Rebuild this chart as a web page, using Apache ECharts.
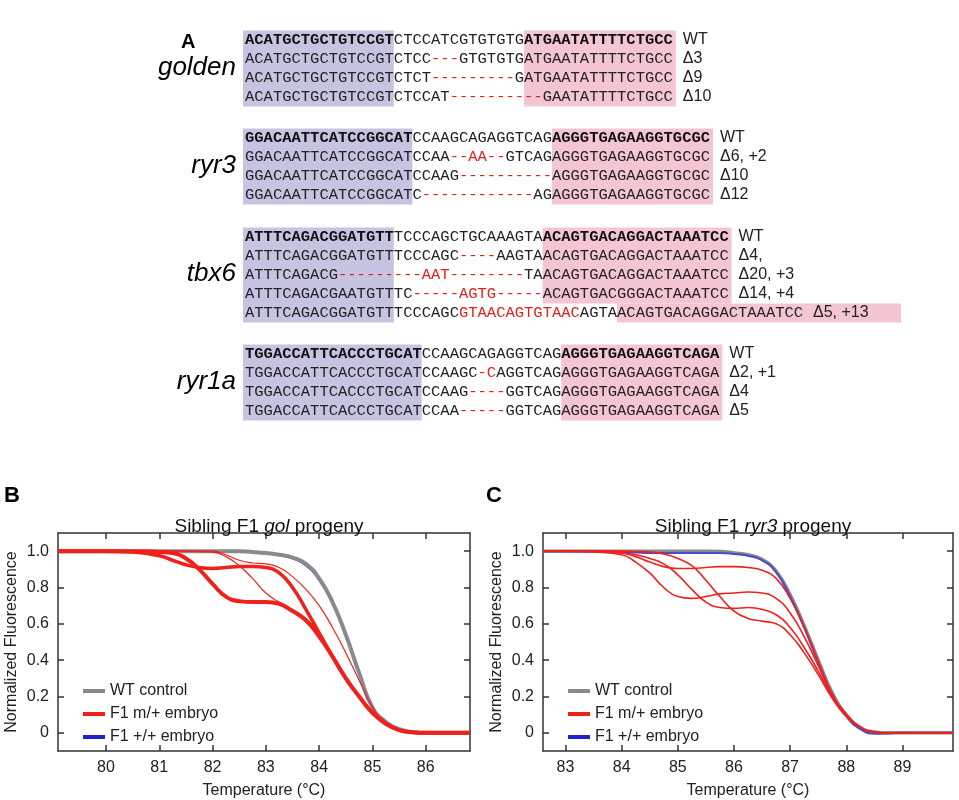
<!DOCTYPE html>
<html>
<head>
<meta charset="utf-8">
<script src="https://cdn.jsdelivr.net/npm/echarts@6/dist/echarts.min.js"></script>
<style>html,body{margin:0;padding:0;background:#fff}#main{width:959px;height:800px}</style>
</head>
<body>
<div id="main"></div>
<script>
// ---- panel B: gol melt curves ----
var tempsB = [79.1, 80, 80.5, 81, 81.25, 81.5, 81.75, 82, 82.25, 82.5, 82.75, 83, 83.25, 83.5, 83.75, 84, 84.25, 84.5, 84.75, 85, 85.25, 85.5, 85.75, 86, 86.83];
var golWT = [1, 1, 1, 1, 1, 1, 1, 1, 1, 1, 0.995, 0.99, 0.98, 0.965, 0.93, 0.85, 0.72, 0.54, 0.33, 0.14, 0.06, 0.02, 0.005, 0, 0];
var golWW = [1, 1, 1, 1, 1, 1, 1, 1, 1, 1, 0.995, 0.99, 0.978, 0.96, 0.92, 0.84, 0.71, 0.53, 0.33, 0.14, 0.06, 0.02, 0.005, 0, 0];
var golM1 = [1, 1, 0.995, 0.975, 0.95, 0.925, 0.91, 0.905, 0.91, 0.915, 0.915, 0.91, 0.88, 0.8, 0.68, 0.55, 0.42, 0.3, 0.2, 0.11, 0.05, 0.015, 0.003, 0, 0];
var golM2 = [1, 1, 1, 0.995, 0.99, 0.96, 0.9, 0.82, 0.75, 0.725, 0.72, 0.72, 0.71, 0.67, 0.62, 0.53, 0.42, 0.3, 0.2, 0.11, 0.05, 0.015, 0.003, 0, 0];
var golM3 = [1, 1, 1, 1, 1, 1, 0.998, 0.995, 0.97, 0.92, 0.85, 0.77, 0.72, 0.68, 0.63, 0.55, 0.43, 0.31, 0.2, 0.11, 0.05, 0.015, 0.003, 0, 0];
var golM4 = [1, 1, 1, 1, 1, 1, 1, 1, 0.98, 0.95, 0.935, 0.93, 0.91, 0.86, 0.79, 0.7, 0.58, 0.44, 0.29, 0.14, 0.06, 0.02, 0.004, 0, 0];

// ---- panel C: ryr3 melt curves ----
var tempsC = [82.6, 83, 83.5, 84, 84.25, 84.5, 84.75, 85, 85.25, 85.5, 85.75, 86, 86.25, 86.5, 86.75, 87, 87.25, 87.5, 87.75, 88, 88.25, 88.5, 88.75, 89, 89.9];
var ryrWT = [1, 1, 1, 1, 1, 1, 1, 1, 1, 1, 0.998, 0.99, 0.98, 0.955, 0.89, 0.76, 0.59, 0.4, 0.22, 0.1, 0.03, 0.005, 0, 0, 0];
var ryrWW = [1, 1, 1, 0.995, 0.992, 0.99, 0.99, 0.99, 0.99, 0.99, 0.99, 0.985, 0.975, 0.95, 0.885, 0.75, 0.58, 0.39, 0.21, 0.09, 0.02, -0.005, -0.003, 0, 0];
var ryrM1 = [1, 1, 1, 0.99, 0.97, 0.94, 0.915, 0.905, 0.905, 0.91, 0.915, 0.915, 0.91, 0.895, 0.85, 0.74, 0.58, 0.39, 0.21, 0.1, 0.03, 0.005, 0, 0, 0];
var ryrM2 = [1, 1, 0.995, 0.98, 0.94, 0.88, 0.8, 0.75, 0.74, 0.75, 0.765, 0.77, 0.775, 0.77, 0.74, 0.66, 0.53, 0.37, 0.21, 0.1, 0.03, 0.005, 0, 0, 0];
var ryrM3 = [1, 1, 1, 0.99, 0.98, 0.96, 0.93, 0.87, 0.79, 0.72, 0.69, 0.685, 0.69, 0.68, 0.65, 0.58, 0.47, 0.34, 0.2, 0.1, 0.03, 0.005, 0, 0, 0];
var ryrM4 = [1, 1, 1, 1, 0.998, 0.995, 0.985, 0.96, 0.92, 0.84, 0.75, 0.67, 0.63, 0.615, 0.6, 0.54, 0.44, 0.32, 0.19, 0.09, 0.03, 0.005, 0, 0, 0];

var yTicks = [0, 0.2, 0.4, 0.6, 0.8, 1.0];
var xTicksB = [80, 81, 82, 83, 84, 85, 86];
var xTicksC = [83, 84, 85, 86, 87, 88, 89];
var legendNames = ['WT control', 'F1 m/+ embryo', 'F1 +/+ embryo'];

// ---- panel A: alignments, each row = list of [text, style] ----
var alignments = [
  {gene: 'golden', blue: 16, pink: [30, 46], rows: [
    [['ACATGCTGCTGTCCGT', 'b'], ['CTCCATCGTGTGTG', 'n'], ['ATGAATATTTTCTGCC', 'b']],
    [['ACATGCTGCTGTCCGTCTCC', 'n'], ['---', 'r'], ['GTGTGTGATGAATATTTTCTGCC', 'n']],
    [['ACATGCTGCTGTCCGTCTCT', 'n'], ['---------', 'r'], ['GATGAATATTTTCTGCC', 'n']],
    [['ACATGCTGCTGTCCGTCTCCAT', 'n'], ['----------', 'r'], ['GAATATTTTCTGCC', 'n']]
  ], labels: ['WT', 'Δ3', 'Δ9', 'Δ10']},
  {gene: 'ryr3', blue: 18, pink: [33, 50], rows: [
    [['GGACAATTCATCCGGCAT', 'b'], ['CCAAGCAGAGGTCAG', 'n'], ['AGGGTGAGAAGGTGCGC', 'b']],
    [['GGACAATTCATCCGGCATCCAA', 'n'], ['--AA--', 'r'], ['GTCAGAGGGTGAGAAGGTGCGC', 'n']],
    [['GGACAATTCATCCGGCATCCAAG', 'n'], ['----------', 'r'], ['AGGGTGAGAAGGTGCGC', 'n']],
    [['GGACAATTCATCCGGCATC', 'n'], ['------------', 'r'], ['AGAGGGTGAGAAGGTGCGC', 'n']]
  ], labels: ['WT', 'Δ6, +2', 'Δ10', 'Δ12']},
  {gene: 'tbx6', blue: 16, pink: [32, 52], rows: [
    [['ATTTCAGACGGATGTT', 'b'], ['TCCCAGCTGCAAAGTA', 'n'], ['ACAGTGACAGGACTAAATCC', 'b']],
    [['ATTTCAGACGGATGTTTCCCAGC', 'n'], ['----', 'r'], ['AAGTAACAGTGACAGGACTAAATCC', 'n']],
    [['ATTTCAGACG', 'n'], ['---------AAT--------', 'r'], ['TAACAGTGACAGGACTAAATCC', 'n']],
    [['ATTTCAGACGAATGTTTC', 'n'], ['-----AGTG-----', 'r'], ['ACAGTGACGGGACTAAATCC', 'n']],
    [['ATTTCAGACGGATGTTTCCCAGC', 'n'], ['GTAACAGTGTAAC', 'r'], ['AGTAACAGTGACAGGACTAAATCC', 'n']]
  ], labels: ['WT', 'Δ4,', 'Δ20, +3', 'Δ14, +4', 'Δ5, +13']},
  {gene: 'ryr1a', blue: 19, pink: [34, 51], rows: [
    [['TGGACCATTCACCCTGCAT', 'b'], ['CCAAGCAGAGGTCAG', 'n'], ['AGGGTGAGAAGGTCAGA', 'b']],
    [['TGGACCATTCACCCTGCATCCAAGC', 'n'], ['-C', 'r'], ['AGGTCAGAGGGTGAGAAGGTCAGA', 'n']],
    [['TGGACCATTCACCCTGCATCCAAG', 'n'], ['----', 'r'], ['GGTCAGAGGGTGAGAAGGTCAGA', 'n']],
    [['TGGACCATTCACCCTGCATCCAA', 'n'], ['-----', 'r'], ['GGTCAGAGGGTGAGAAGGTCAGA', 'n']]
  ], labels: ['WT', 'Δ2, +1', 'Δ4', 'Δ5']}
];
var blockTops = [40, 138, 237, 354];

var chart = echarts.init(document.getElementById('main'));
var SANS = 'Liberation Sans';
var MONO = 'Liberation Mono';
var CW = 9.3, RH = 19, X0 = 245, FS = 15.5;

function zip(xs, ys) {
  return xs.map(function (x, i) { return [x, ys[i]]; });
}

var graphics = [
  {type: 'text', left: 181, top: 32, style: {text: 'A', font: 'bold 20px ' + SANS, fill: '#000'}},
  {type: 'text', left: 4, top: 485, style: {text: 'B', font: 'bold 22px ' + SANS, fill: '#000'}},
  {type: 'text', left: 486, top: 485, style: {text: 'C', font: 'bold 22px ' + SANS, fill: '#000'}}
];
alignments.forEach(function (al, k) {
  var top = blockTops[k] - RH / 2;
  var n = al.rows.length;
  graphics.push({type: 'rect', shape: {x: X0 - 2, y: top, width: al.blue * CW + 2, height: n * RH},
    style: {fill: '#c6c4e1'}, z: 1});
  if (al.gene === 'tbx6') {
    graphics.push({type: 'rect', shape: {x: X0 + al.pink[0] * CW, y: top, width: (al.pink[1] - al.pink[0]) * CW + 3, height: (n - 1) * RH},
      style: {fill: '#f4c5d3'}, z: 1});
    graphics.push({type: 'rect', shape: {x: X0 + 40 * CW, y: top + (n - 1) * RH, width: 20 * CW + 98, height: RH},
      style: {fill: '#f4c5d3'}, z: 1});
  } else {
    graphics.push({type: 'rect', shape: {x: X0 + al.pink[0] * CW, y: top, width: (al.pink[1] - al.pink[0]) * CW + 3, height: n * RH},
      style: {fill: '#f4c5d3'}, z: 1});
  }
  graphics.push({type: 'text', left: 'auto', right: 959 - 236, top: blockTops[k] + (n - 1) * RH / 2 - 14,
    style: {text: al.gene, font: 'italic 26px ' + SANS, fill: '#000', align: 'right'}, z: 3});
  al.rows.forEach(function (row, r) {
    var txt = row.map(function (s) { return '{' + s[1] + '|' + s[0] + '}'; }).join('');
    var len = row.reduce(function (a, s) { return a + s[0].length; }, 0);
    graphics.push({type: 'text', x: X0, y: blockTops[k] + r * RH, z: 3,
      style: {text: txt, verticalAlign: 'middle', rich: {
        b: {fontFamily: MONO, fontSize: FS, fontWeight: 'bold', fill: '#111'},
        n: {fontFamily: MONO, fontSize: FS, fill: '#222'},
        r: {fontFamily: MONO, fontSize: FS, fill: '#e0201e'}
      }}});
    graphics.push({type: 'text', x: X0 + len * CW + 10, y: blockTops[k] + r * RH, z: 3,
      style: {text: al.labels[r], font: '16px ' + SANS, fill: '#222', verticalAlign: 'middle'}});
  });
});

function axisPair(gi, min, max, ticks) {
  var base = {gridIndex: gi, type: 'value', min: min, max: max,
    axisLine: {show: true, onZero: false, lineStyle: {color: '#333', width: 1.5}},
    splitLine: {show: false},
    axisTick: {inside: true, length: 6, lineStyle: {color: '#333', width: 1.5}, customValues: ticks}};
  return [
    Object.assign({}, base, {position: 'bottom', name: 'Temperature (°C)', nameLocation: 'middle', nameGap: 32,
      nameTextStyle: {fontFamily: SANS, fontSize: 16, color: '#222'},
      axisLabel: {fontFamily: SANS, fontSize: 16, color: '#222', margin: 9, customValues: ticks}}),
    Object.assign({}, base, {position: 'top', axisLabel: {show: false}})
  ];
}
function yPair(gi) {
  var base = {gridIndex: gi, type: 'value', min: -0.1, max: 1.1,
    axisLine: {show: true, onZero: false, lineStyle: {color: '#333', width: 1.5}},
    splitLine: {show: false},
    axisTick: {inside: true, length: 6, lineStyle: {color: '#333', width: 1.5}, customValues: yTicks}};
  return [
    Object.assign({}, base, {position: 'left', name: 'Normalized Fluorescence', nameLocation: 'middle', nameGap: 38,
      nameTextStyle: {fontFamily: SANS, fontSize: 16, color: '#222'},
      axisLabel: {fontFamily: SANS, fontSize: 16, color: '#222', margin: 9, customValues: yTicks,
        formatter: function (v) { return v === 0 ? '0' : v.toFixed(1); }}}),
    Object.assign({}, base, {position: 'right', axisLabel: {show: false}})
  ];
}

function line(name, xi, yi, xs, ys, color, width) {
  return {name: name, type: 'line', xAxisIndex: xi, yAxisIndex: yi, data: zip(xs, ys),
    smooth: 0.5, showSymbol: false, symbol: 'none', silent: true,
    lineStyle: {color: color, width: width}, itemStyle: {color: color}};
}
var GRAY = '#8a8a8e', RED = '#f0201c', BLUE = '#2020d0';
var titleRich = {n: {fontFamily: SANS, fontSize: 19, fontWeight: 'normal', color: '#111'},
  i: {fontFamily: SANS, fontSize: 19, fontWeight: 'normal', fontStyle: 'italic', color: '#111'}};

var option = {
  animation: false,
  title: [
    {text: '{n|Sibling F1 }{i|gol}{n| progeny}', left: 264, top: 512, textAlign: 'center',
      textStyle: {fontWeight: 'normal', rich: titleRich}},
    {text: '{n|Sibling F1 }{i|ryr3}{n| progeny}', left: 748, top: 512, textAlign: 'center',
      textStyle: {fontWeight: 'normal', rich: titleRich}}
  ],
  legend: [
    {data: legendNames, orient: 'vertical', left: 78, top: 678, itemWidth: 22, itemHeight: 4, itemGap: 7,
      icon: 'rect', selectedMode: false, textStyle: {fontFamily: SANS, fontSize: 16, color: '#222'}},
    {data: legendNames, orient: 'vertical', left: 563, top: 678, itemWidth: 22, itemHeight: 4, itemGap: 7,
      icon: 'rect', selectedMode: false, textStyle: {fontFamily: SANS, fontSize: 16, color: '#222'}}
  ],
  grid: [
    {left: 58, top: 533, width: 412, height: 220},
    {left: 543, top: 533, width: 410, height: 220}
  ],
  xAxis: axisPair(0, 79.1, 86.83, xTicksB).concat(axisPair(1, 82.6, 89.9, xTicksC)),
  yAxis: yPair(0).concat(yPair(1)),
  series: [
    line('F1 +/+ embryo', 0, 0, tempsB, golWW, BLUE, 1.5),
    line('WT control', 0, 0, tempsB, golWT, GRAY, 4),
    line('F1 m/+ embryo', 0, 0, tempsB, golM1, RED, 3.5),
    line('F1 m/+ embryo', 0, 0, tempsB, golM2, RED, 4),
    line('F1 m/+ embryo', 0, 0, tempsB, golM3, RED, 1.2),
    line('F1 m/+ embryo', 0, 0, tempsB, golM4, RED, 1.2),
    line('WT control', 2, 2, tempsC, ryrWT, GRAY, 3.5),
    line('F1 +/+ embryo', 2, 2, tempsC, ryrWW, '#4a4ad0', 2),
    line('F1 m/+ embryo', 2, 2, tempsC, ryrM1, RED, 1.6),
    line('F1 m/+ embryo', 2, 2, tempsC, ryrM2, RED, 1.6),
    line('F1 m/+ embryo', 2, 2, tempsC, ryrM3, RED, 1.6),
    line('F1 m/+ embryo', 2, 2, tempsC, ryrM4, RED, 1.6)
  ],
  graphic: graphics
};
chart.setOption(option);
</script>
</body>
</html>
